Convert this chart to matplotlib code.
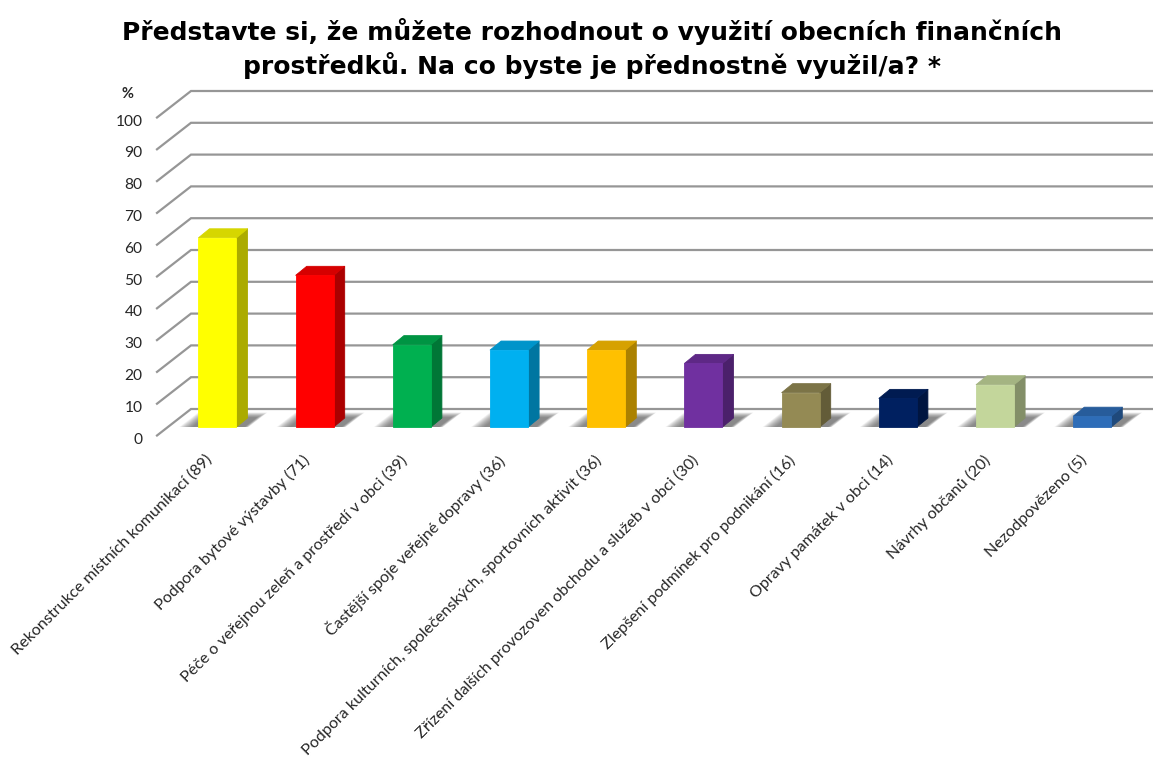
import matplotlib
matplotlib.use("Agg")
import matplotlib.pyplot as plt
from matplotlib.transforms import ScaledTranslation

# ---- data ----
categories = [
    "Rekonstrukce místních komunikací (89)",
    "Podpora bytové výstavby (71)",
    "Péče o veřejnou zeleň a prostředí v obci (39)",
    "Častější spoje veřejné dopravy (36)",
    "Podpora kulturních, společenských, sportovních aktivit (36)",
    "Zřízení dalších provozoven obchodu a služeb v obci (30)",
    "Zlepšení podmínek pro podnikání (16)",
    "Opravy památek v obci (14)",
    "Návrhy občanů (20)",
    "Nezodpovězeno (5)",
]
values = [59.5, 47.7, 25.9, 24.2, 24.2, 20.0, 10.8, 9.0, 13.3, 3.4]
colors = ["#FFFF00", "#FF0000", "#00B050", "#00B0F0", "#FFC000",
          "#7030A0", "#948A54", "#002060", "#C3D69B", "#2E6DB8"]
y_ticks = list(range(0, 101, 10))
title = ("Představte si, že můžete rozhodnout o využití obecních finančních\n"
         "prostředků. Na co byste je přednostně využil/a? *")

# ---- layout (pixels of the 1153x758 figure) ----
W, H = 1153, 758
PX_X0, PX_DX = 217.5, 97.2      # first bar centre, bar pitch
PX_Y0, PX_DY = 427.0, 3.18      # bar baseline, pixels per percent
AX_L, AX_R, AX_T, AX_B = 157, W, 80, 440

fig = plt.figure(figsize=(W / 100, H / 100), dpi=100, facecolor="white")
ax = fig.add_axes([AX_L / W, 1 - AX_B / H, (AX_R - AX_L) / W, (AX_B - AX_T) / H])
ax.set_xlim((AX_L - PX_X0) / PX_DX, (AX_R - PX_X0) / PX_DX)
ax.set_ylim((PX_Y0 - AX_B) / PX_DY, (PX_Y0 - AX_T) / PX_DY)
for s in ax.spines.values():
    s.set_visible(False)
ax.patch.set_visible(False)

ux = 1 / PX_DX   # one pixel in x data units
uy = 1 / PX_DY   # one pixel in y data units

# gridlines with the side wall: front point -> back point -> right edge
front_x, back_x = (157 - PX_X0) * ux, (191 - PX_X0) * ux
front_dy, back_dy = -8.5 * uy, 18 * uy
for v in y_ticks:
    ax.plot([front_x, back_x, (W - PX_X0) * ux],
            [v + front_dy, v + back_dy, v + back_dy],
            color="#969696", lw=1.6, zorder=1, clip_on=False,
            solid_joinstyle="miter")

# bars
bar_w = 38 * ux
dep_x, dep_y = 11 * ux, 9 * uy


def shade(hex_color, f):
    r, g, b = matplotlib.colors.to_rgb(hex_color)
    return (r * f, g * f, b * f)


n_shadow = 14
for i, (v, c) in enumerate(zip(values, colors)):
    x0, x1 = i - bar_w / 2, i + bar_w / 2
    # soft floor shadow: nested parallelograms, densest at the bar foot
    for k in range(n_shadow):
        t = k / (n_shadow - 1)
        left = x0 - (19 - 13 * t) * ux
        right = x1 + (12 - 4 * t) * ux
        top_px = 14.5 - 5 * t
        skew = top_px * 1.3 * ux
        ax.fill([left, right, right + skew, left + skew],
                [0, 0, top_px * uy, top_px * uy],
                color="#505050", alpha=0.07, lw=0, zorder=2)
    ax.bar(i, v, width=bar_w, color=c, edgecolor=c, lw=0.6, zorder=5)
    ax.fill([x1, x1 + dep_x, x1 + dep_x, x1],
            [0, dep_y, v + dep_y, v],
            color=shade(c, 0.67), lw=0.6, joinstyle="round", zorder=4)
    ax.fill([x0, x0 + dep_x, x1 + dep_x, x1],
            [v, v + dep_y, v + dep_y, v],
            color=shade(c, 0.84), lw=0.6, joinstyle="round", zorder=4)

# y axis labels
ax.set_yticks(y_ticks)
ax.set_yticklabels([str(v) for v in y_ticks], family="Lato", fontsize=11.2, color="#262626")
ax.tick_params(axis="y", length=0, pad=10.4)
off_y = ScaledTranslation(0, -8 / 72, fig.dpi_scale_trans)
for lab in ax.get_yticklabels():
    lab.set_transform(lab.get_transform() + off_y)

# x axis labels
ax.set_xticks(range(len(categories)))
ax.set_xticklabels(categories, rotation=45, ha="right", va="top",
                   rotation_mode="anchor", family="Lato", fontsize=11.6, color="#262626")
ax.tick_params(axis="x", length=0, pad=9)
off_x = ScaledTranslation(-9 / 72, 0, fig.dpi_scale_trans)
for lab in ax.get_xticklabels():
    lab.set_transform(lab.get_transform() + off_x)

fig.text(127 / W, 1 - 94 / H, "%", ha="center", va="center",
         family="Lato", fontweight="bold", fontsize=10.5, color="#262626")
fig.text(592 / W, 1 - 48.5 / H, title, ha="center", va="center", family="DejaVu Sans",
         fontweight="bold", fontsize=18.0, color="black", linespacing=1.3)

fig.savefig("out.png", dpi=100)
